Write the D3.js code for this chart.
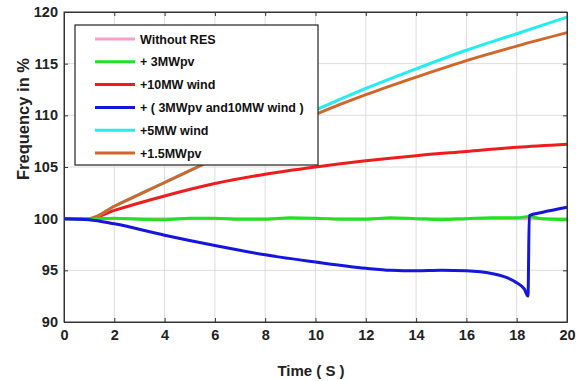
<!DOCTYPE html>
<html>
<head>
<meta charset="utf-8">
<script src="https://cdn.jsdelivr.net/npm/d3@7"></script>
<style>
  body { margin: 0; background: #fff; }
  text { font-family: "Liberation Sans", Arial, sans-serif; font-weight: bold; }
</style>
</head>
<body>
<div id="chart"></div>
<script>
// Data (time in s, frequency in %)
var seriesNames = ["Without RES", "+ 3MWpv", "+10MW wind", "+ ( 3MWpv and10MW wind )", "+5MW wind", "+1.5MWpv"];
var seriesColors = ["#f4a0c8", "#22e022", "#ee1c1c", "#1515e0", "#22eef0", "#d2652a"];

var tNoRes = [0, 20];
var fNoRes = [100, 100];

var tPv3 = [0, 1, 2, 3, 4, 5, 6, 7, 8, 9, 10, 11, 12, 13, 14, 15, 16, 17, 18, 18.5, 19, 20];
var fPv3 = [100, 100, 100.05, 99.95, 99.9, 100.05, 100.05, 99.95, 99.95, 100.1, 100.05, 99.95, 99.95, 100.1, 100.0, 99.9, 100.0, 100.1, 100.1, 100.2, 100.0, 99.9];

var tWind10 = [0, 1, 2, 4, 6, 8, 10, 12, 14, 16, 18, 20];
var fWind10 = [100, 100, 100.8, 102.2, 103.4, 104.3, 105.0, 105.6, 106.1, 106.5, 106.9, 107.2];

var tBoth = [0, 1, 2, 4, 6, 8, 10, 12, 13, 14, 15, 16, 17, 17.5, 18, 18.3, 18.45, 18.5, 19, 20];
var fBoth = [100, 99.9, 99.5, 98.4, 97.4, 96.5, 95.8, 95.2, 95.0, 94.95, 95.0, 94.95, 94.7, 94.4, 93.8, 93.2, 92.5, 100.3, 100.6, 101.1];

var tWind5 = [0, 1, 2, 4, 6, 8, 10, 12, 14, 16, 18, 20];
var fWind5 = [100, 100, 101.2, 103.5, 105.8, 108.2, 110.5, 112.6, 114.5, 116.3, 117.9, 119.5];

var tPv15 = [0, 1, 2, 4, 6, 8, 10, 12, 14, 16, 18, 20];
var fPv15 = [100, 100, 101.2, 103.5, 105.8, 108.0, 110.1, 112.0, 113.7, 115.3, 116.7, 118.0];

var xTicks = [0, 2, 4, 6, 8, 10, 12, 14, 16, 18, 20];
var yTicks = [90, 95, 100, 105, 110, 115, 120];

var allT = [tNoRes, tPv3, tWind10, tBoth, tWind5, tPv15];
var allF = [fNoRes, fPv3, fWind10, fBoth, fWind5, fPv15];

// Set the dimensions and margins of the graph
var W = 579, H = 381;
var margin = { top: 12, right: 12, bottom: 59, left: 64 },
  width = W - margin.left - margin.right,
  height = H - margin.top - margin.bottom;

var svg = d3.select("#chart")
  .append("svg")
  .attr("width", W)
  .attr("height", H);

var g = svg.append("g")
  .attr("transform", "translate(" + margin.left + "," + margin.top + ")");

var x = d3.scaleLinear().domain([0, 20]).range([0, width]);
var y = d3.scaleLinear().domain([90, 120]).range([height, 0]);

// grid
g.append("g").selectAll("line").data(xTicks.slice(1, -1)).enter().append("line")
  .attr("x1", function (d) { return x(d); }).attr("x2", function (d) { return x(d); })
  .attr("y1", 0).attr("y2", height)
  .attr("stroke", "#dcdcdc").attr("stroke-width", 1);
g.append("g").selectAll("line").data(yTicks.slice(1, -1)).enter().append("line")
  .attr("y1", function (d) { return y(d); }).attr("y2", function (d) { return y(d); })
  .attr("x1", 0).attr("x2", width)
  .attr("stroke", "#dcdcdc").attr("stroke-width", 1);

// axes (ticks inside, like matlab)
var xAxis = g.append("g").attr("transform", "translate(0," + height + ")")
  .call(d3.axisBottom(x).tickValues(xTicks).tickSizeInner(-4).tickSizeOuter(0).tickPadding(8));
var yAxis = g.append("g")
  .call(d3.axisLeft(y).tickValues(yTicks).tickSizeInner(-4).tickSizeOuter(0).tickPadding(6));
g.append("g").attr("transform", "translate(" + width + ",0)")
  .call(d3.axisRight(y).tickValues(yTicks).tickSizeInner(-4).tickSizeOuter(0).tickFormat(""));
g.append("g")
  .call(d3.axisTop(x).tickValues(xTicks).tickSizeInner(-4).tickSizeOuter(0).tickFormat(""));

g.selectAll(".domain").attr("stroke", "#333");
g.selectAll(".tick line").attr("stroke", "#333");
xAxis.selectAll("text").attr("font-size", 14.5).attr("fill", "#222");
yAxis.selectAll("text").attr("font-size", 14.5).attr("fill", "#222");

// lines
var line = d3.line()
  .x(function (d) { return x(d[0]); })
  .y(function (d) { return y(d[1]); })
  .curve(d3.curveMonotoneX);

var lines = g.append("g");
allT.forEach(function (ts, i) {
  var pts = ts.map(function (t, k) { return [t, allF[i][k]]; });
  lines.append("path")
    .datum(pts)
    .attr("d", line)
    .attr("fill", "none")
    .attr("stroke", seriesColors[i])
    .attr("stroke-width", 3);
});
// green and blue over pink
lines.selectAll("path").filter(function (d, i) { return i === 1 || i === 3; }).raise();

// box
g.append("rect").attr("x", 0).attr("y", 0).attr("width", width).attr("height", height)
  .attr("fill", "none").attr("stroke", "#333").attr("stroke-width", 1);

// legend
var lg = svg.append("g").attr("transform", "translate(75,25)");
lg.append("rect").attr("width", 243).attr("height", 140)
  .attr("fill", "#fff").attr("stroke", "#222").attr("stroke-width", 1.2);
seriesNames.forEach(function (name, i) {
  var yy = 14 + i * 22.8;
  lg.append("line").attr("x1", 20).attr("x2", 60).attr("y1", yy).attr("y2", yy)
    .attr("stroke", seriesColors[i]).attr("stroke-width", 3);
  lg.append("text").attr("x", 65).attr("y", yy + 4.5)
    .attr("font-size", 12.5).attr("fill", "#111").text(name);
});

// axis titles
svg.append("text")
  .attr("x", 311).attr("y", 376)
  .attr("text-anchor", "middle").attr("font-size", 15).attr("fill", "#222")
  .text("Time ( S )");
svg.append("text")
  .attr("transform", "translate(29,119) rotate(-90)")
  .attr("text-anchor", "middle").attr("font-size", 16.5).attr("fill", "#222")
  .text("Frequency in %");
</script>
</body>
</html>
